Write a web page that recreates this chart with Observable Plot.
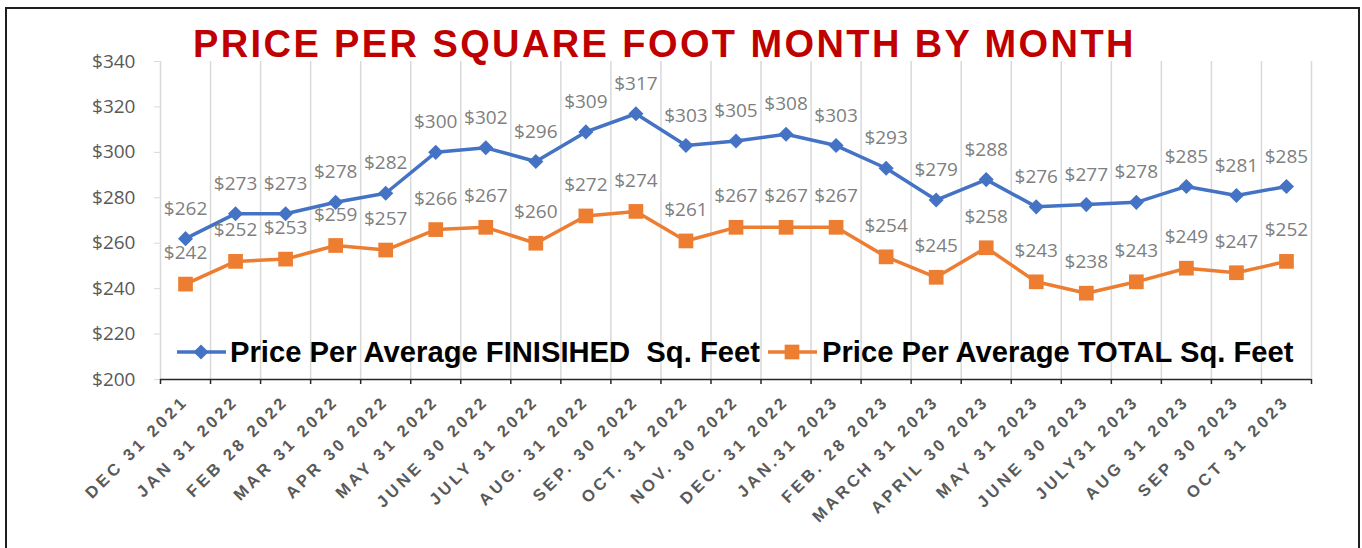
<!DOCTYPE html>
<html><head><meta charset="utf-8">
<script src="https://cdn.jsdelivr.net/npm/d3@7"></script>
<script src="https://cdn.jsdelivr.net/npm/@observablehq/plot@0.6"></script>
<style>
body{margin:0;background:#fff;}
#wrap{position:relative;width:1362px;height:548px;overflow:hidden;background:#fff;}
#frame{position:absolute;left:5px;top:7px;width:1355px;height:600px;border:2px solid #1f1f1f;box-sizing:border-box;pointer-events:none;}
#chart{position:absolute;left:0;top:0;}
#overlay{position:absolute;left:0;top:0;}
</style></head>
<body>
<div id="wrap">
<div id="chart"></div>
<svg id="overlay" width="1362" height="548"></svg>
<div id="frame"></div>
</div>
<script>
const categories = ["DEC 31 2021","JAN 31 2022","FEB 28 2022","MAR 31 2022","APR 30 2022","MAY 31 2022","JUNE 30 2022","JULY 31 2022","AUG. 31 2022","SEP. 30 2022","OCT. 31 2022","NOV. 30 2022","DEC. 31 2022","JAN.31 2023","FEB. 28 2023","MARCH 31 2023","APRIL 30 2023","MAY 31 2023","JUNE 30 2023","JULY31 2023","AUG 31 2023","SEP 30 2023","OCT 31 2023"];
const finished = [262,273,273,278,282,300,302,296,309,317,303,305,308,303,293,279,288,276,277,278,285,281,285];
const total = [242,252,253,259,257,266,267,260,272,274,261,267,267,267,254,245,258,243,238,243,249,247,252];
const yTicks = [200,220,240,260,280,300,320,340];
const seriesNames = ["Price Per Average FINISIHED  Sq. Feet","Price Per Average TOTAL Sq. Feet"];
const titleText = "PRICE PER SQUARE FOOT MONTH BY MONTH";

const n = categories.length;
const rows = categories.map((c,i)=>({i, pos:i+0.5, cat:c, finished:finished[i], total:total[i]}));
const bounds = d3.range(0, n+1);
const BLUE = "#4472C4", ORANGE = "#ED7D31";
const LAB = "'Liberation Sans', Arial, sans-serif";

const chart = Plot.plot({
  width:1362, height:548,
  marginLeft:160, marginRight:51, marginTop:61, marginBottom:169,
  style:{fontFamily:"'Open Sans', sans-serif", background:"transparent", overflow:"visible"},
  x:{type:"linear", domain:[0,n], axis:null, label:null},
  y:{domain:[200,340], axis:null, label:null},
  marks:[
    Plot.gridX(bounds, {stroke:"#d9d9d9", strokeOpacity:1, strokeWidth:1.5}),
    Plot.axisY(yTicks, {tickSize:6, stroke:"#d9d9d9", strokeOpacity:1, tickFormat:()=>"", label:null}),
    Plot.text(yTicks, {x:0, y:d=>d, text:d=>"$"+d, textAnchor:"end", dx:-25, fill:"#595959", fontSize:19}),
    Plot.ruleY([200], {stroke:"#262626", strokeWidth:1.5}),
    Plot.axisX(bounds, {tickSize:5, stroke:"#262626", strokeWidth:1.5, tickFormat:()=>"", label:null}),
    Plot.text(rows, {x:"pos", y:()=>200, text:"cat", rotate:-45, textAnchor:"end", dy:19, fill:"#595959", fontSize:16.5, fontWeight:"bold", fontFamily:LAB}),
    Plot.line(rows, {x:"pos", y:"finished", stroke:BLUE, strokeWidth:3.5}),
    Plot.line(rows, {x:"pos", y:"total", stroke:ORANGE, strokeWidth:3.5}),
    Plot.dot(rows, {x:"pos", y:"finished", symbol:"diamond2", r:6.8, fill:BLUE, stroke:"none"}),
    Plot.dot(rows, {x:"pos", y:"total", symbol:"square", r:8.3, fill:ORANGE, stroke:"none"}),
    Plot.text(rows, {x:"pos", y:"finished", text:d=>"$"+d.finished, dy:-30, fill:"#7f7f7f", fontSize:19}),
    Plot.text(rows, {x:"pos", y:"total", text:d=>"$"+d.total, dy:-31, fill:"#7f7f7f", fontSize:19})
  ]
});
document.getElementById("chart").appendChild(chart);
d3.select(chart).selectAll("text").filter(function(){ const t=this.getAttribute("transform"); return t && t.includes("rotate"); }).style("letter-spacing","3.5px");

// Title and legend overlay
const ov = d3.select("#overlay");
ov.append("text").attr("x",193).attr("y",57)
  .attr("font-family",LAB).attr("font-weight","bold")
  .attr("font-size",38).attr("letter-spacing","2.4px").attr("fill","#C00000").text(titleText);

const lg = ov.append("g").attr("font-family",LAB).attr("font-weight","bold").attr("font-size",29.2).attr("fill","#000");
lg.append("line").attr("x1",177).attr("x2",226).attr("y1",352).attr("y2",352).attr("stroke",BLUE).attr("stroke-width",3.5);
lg.append("path").attr("d",d3.symbol(d3.symbolDiamond2, 6.8*6.8*Math.PI)()).attr("transform","translate(201,352)").attr("fill",BLUE);
lg.append("text").attr("x",230).attr("y",362).style("white-space","pre").text(seriesNames[0]);
lg.append("line").attr("x1",768).attr("x2",817).attr("y1",352).attr("y2",352).attr("stroke",ORANGE).attr("stroke-width",3.5);
lg.append("path").attr("d",d3.symbol(d3.symbolSquare, 8.3*8.3*Math.PI)()).attr("transform","translate(792,352)").attr("fill",ORANGE);
lg.append("text").attr("x",822).attr("y",362).text(seriesNames[1]);
</script>
</body></html>
